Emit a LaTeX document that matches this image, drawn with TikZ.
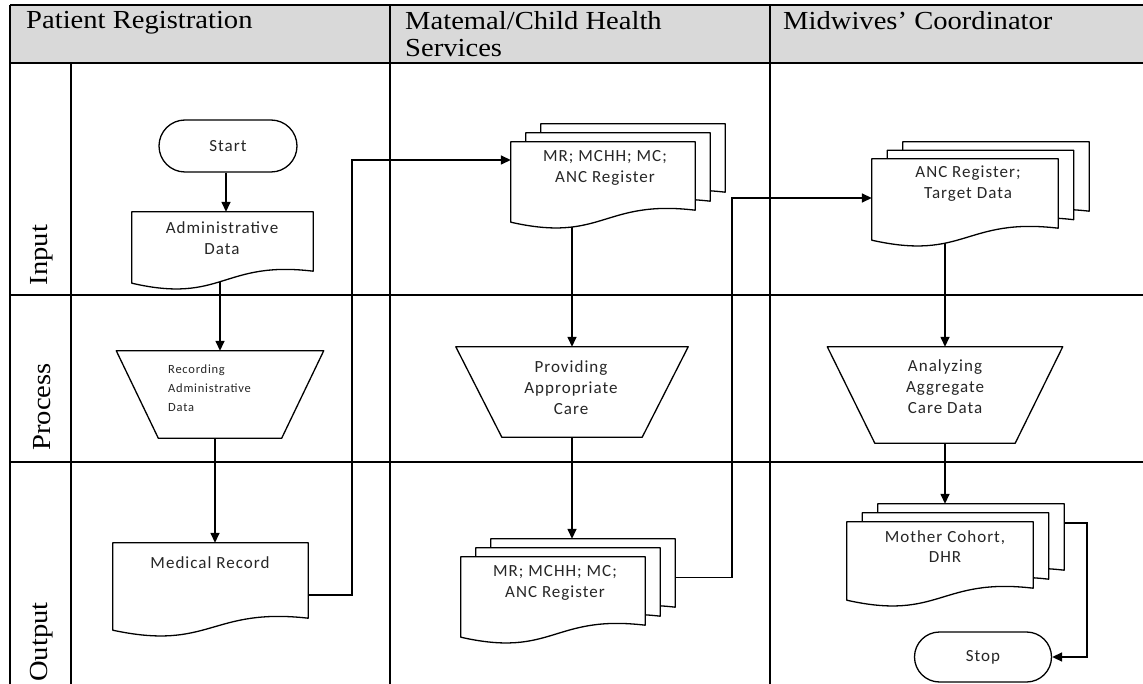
\documentclass[tikz,border=0pt]{standalone}
\usepackage{fontspec}
\setmainfont{Liberation Serif}
\newfontfamily\headfont[FakeStretch=1.1]{Liberation Serif}
\newfontfamily\boxfont[LetterSpace=6]{Carlito}
\usetikzlibrary{calc,arrows.meta}
\pgfdeclarelayer{gridlayer}
\pgfdeclarelayer{connlayer}
\pgfdeclarelayer{shapelayer}
\pgfsetlayers{gridlayer,connlayer,shapelayer,main}
\definecolor{hdr}{HTML}{D9D9D9}
\tikzset{
  gridline/.style={line width=1.4pt, black},
  headtext/.style={font=\headfont\fontsize{26}{27}\selectfont, anchor=north west, inner sep=0pt, align=left},
  lanetext/.style={font=\headfont\fontsize{26}{27}\selectfont, rotate=90, inner sep=0pt},
  docbox/.style={draw=none, inner sep=0pt},
  outlinestyle/.style={draw=black, line width=1.3pt, fill=white, line join=round},
  ftext/.style={font=\boxfont\fontsize{17}{21}\selectfont, align=center, inner sep=0pt, text=black!85},
  smalltext/.style={font=\boxfont\fontsize{12.5}{19}\selectfont, align=left, inner sep=0pt, text=black!85},
  termbox/.style={draw=black, line width=1.3pt, fill=white, font=\boxfont\fontsize{17}{21}\selectfont, text=black!85, inner sep=0pt},
  conn/.style={line width=1.5pt, -{Triangle[length=10pt,width=9pt]}},
}
\newcommand{\docshape}[1]{\path[outlinestyle] (#1.north west) -- (#1.north east) -- ($(#1.south east)+(0,-9)$) .. controls ($(#1.south)+(0,-20)$) and ($(#1.south)+(0,24)$) .. ($(#1.south west)+(0,3)$) -- cycle;}
\newcommand{\trapshape}[2]{\path[outlinestyle] (#1.north west) -- (#1.north east) -- ($(#1.south east)+(-#2,0)$) -- ($(#1.south west)+(#2,0)$) -- cycle;}
\begin{document}
\begin{tikzpicture}[x=1pt,y=-1pt]
\useasboundingbox (0,0) rectangle (1143,684);
% ---------- grid ----------
\begin{pgfonlayer}{gridlayer}
\fill[hdr] (10,5) rectangle (1143,63);
\draw[gridline] (10,5) -- (1143,5);
\draw[gridline, line width=2.2pt] (10,63) -- (1143,63);
\draw[gridline] (10,5) -- (10,684);
\draw[gridline] (390,5) -- (390,684);
\draw[gridline] (770,5) -- (770,684);
\draw[gridline] (71,63) -- (71,684);
\draw[gridline] (10,295) -- (1143,295);
\draw[gridline] (10,462) -- (1143,462);
\end{pgfonlayer}
% header and lane labels
\node[headtext] (h1) at (26,11) {Patient Registration};
\node[headtext] (h2) at (405,11) {Matemal/Child Health\\Services};
\node[headtext] (h3) at (783,11) {Midwives’ Coordinator};
\node[lanetext] (l1) at (42,255) {Input};
\node[lanetext] (l2) at (42,407) {Process};
\node[lanetext] (l3) at (42,642) {Output};
% ---------- terminals ----------
\node[termbox, minimum width=138pt, minimum height=52pt, rounded corners=26pt] (start) at (228,146) {Start};
\node[termbox, minimum width=137pt, minimum height=50pt, rounded corners=25pt] (stop) at (983,657) {Stop};
% ---------- shape nodes ----------
\node[docbox, minimum width=181pt, minimum height=68pt] (admin) at (222.5,246) {};
\node[docbox, minimum width=207pt, minimum height=87pt] (rec) at (220,394.5) {};
\node[docbox, minimum width=195pt, minimum height=84pt] (medrec) at (210.5,585) {};
\node[docbox, minimum width=184pt, minimum height=77pt] (mrin3) at (633,162.5) {};
\node[docbox, minimum width=184pt, minimum height=77pt] (mrin2) at (618,171.5) {};
\node[docbox, minimum width=184pt, minimum height=77pt] (mrin) at (603,180.5) {};
\node[docbox, minimum width=232pt, minimum height=90pt] (prov) at (572,392) {};
\node[docbox, minimum width=184pt, minimum height=77pt] (mrout3) at (583,577.5) {};
\node[docbox, minimum width=184pt, minimum height=77pt] (mrout2) at (568,586.5) {};
\node[docbox, minimum width=184pt, minimum height=77pt] (mrout) at (553,595.5) {};
\node[docbox, minimum width=186pt, minimum height=78pt] (ancin3) at (996,181) {};
\node[docbox, minimum width=186pt, minimum height=78pt] (ancin2) at (980.5,189.5) {};
\node[docbox, minimum width=186pt, minimum height=78pt] (ancin) at (965,198) {};
\node[docbox, minimum width=235pt, minimum height=96pt] (anal) at (945,395) {};
\node[docbox, minimum width=186pt, minimum height=75pt] (mother3) at (971,541.5) {};
\node[docbox, minimum width=186pt, minimum height=75pt] (mother2) at (955.5,550.5) {};
\node[docbox, minimum width=186pt, minimum height=75pt] (mother) at (940,559.5) {};
% outlines
\begin{pgfonlayer}{shapelayer}
\docshape{admin}
\trapshape{rec}{42}
\docshape{medrec}
\docshape{mrin3}\docshape{mrin2}\docshape{mrin}
\trapshape{prov}{46}
\docshape{mrout3}\docshape{mrout2}\docshape{mrout}
\docshape{ancin3}\docshape{ancin2}\docshape{ancin}
\trapshape{anal}{47.5}
\docshape{mother3}\docshape{mother2}\docshape{mother}
\end{pgfonlayer}
% texts
\node[ftext] (admin-t) at (222,238) {Administrative\\Data};
\node[smalltext, anchor=west] (rec-t) at (168,388) {Recording\\Administrative\\Data};
\node[ftext] (medrec-t) at (210,563) {Medical Record};
\node[ftext] (mrin-t) at (605,168) {MR; MCHH; MC;\\ANC Register};
\node[ftext] (prov-t) at (571,388) {Providing\\Appropriate\\Care};
\node[ftext] (mrout-t) at (555,583) {MR; MCHH; MC;\\ANC Register};
\node[ftext] (ancin-t) at (968,184) {ANC Register;\\Target Data};
\node[ftext] (anal-t) at (945,387) {Analyzing\\Aggregate\\Care Data};
\node[ftext, font=\boxfont\fontsize{17}{20}\selectfont] (mother-t) at (945,547) {Mother Cohort,\\DHR};
% ---------- connectors ----------
\coordinate (c1) at (352,160);
\coordinate (c2) at (732,198);
\coordinate (c3) at (1087,657);
\begin{pgfonlayer}{connlayer}
\draw[conn] ($(start.south)+(-2,0)$) -- ($(start.south |- admin.north)+(-2,0)$);
\draw[conn] (rec.north |- admin.south) -- (rec.north);
\draw[conn] ($(rec.south)+(-5,0)$) -- ($(rec.south |- medrec.north)+(-5,0)$);
\draw[conn] ($(medrec.east)+(0,10)$) -| (c1) -- (c1 -| mrin.west);
\draw[conn] (prov.north |- mrin.south) -- (prov.north);
\draw[conn] (prov.south) -- (prov.south |- mrout3.north);
\draw[conn] (mrout3.east) -| (c2) -- (c2 -| ancin.west);
\draw[conn] (anal.north |- ancin.south) -- (anal.north);
\draw[conn] (anal.south) -- (anal.south |- mother3.north);
\draw[conn] ($(mother3.north east)+(0,19)$) -| (c3) -- (stop.east);
\end{pgfonlayer}
\end{tikzpicture}
\end{document}
